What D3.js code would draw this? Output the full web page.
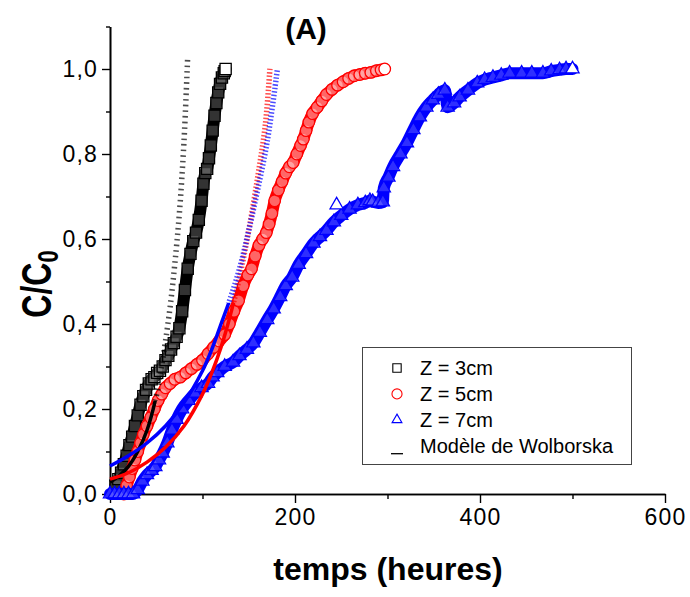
<!DOCTYPE html>
<html>
<head>
<meta charset="utf-8">
<script src="https://cdn.jsdelivr.net/npm/d3@7"></script>
<style>
  body { margin: 0; background: #fff; }
  text { font-family: "Liberation Sans", Arial, sans-serif; }
</style>
</head>
<body>
<script>
// C/C0 vs temps (heures)
const z3 = [[6,0.02],[9,0.035],[12,0.05],[15,0.07],[18,0.09],[21,0.115],[24,0.135],[27,0.16],[30,0.185],
  [33,0.21],[36,0.23],[39,0.245],[42,0.26],[45,0.27],[48,0.275],[51,0.285],[54,0.29],[57,0.3],[60,0.315],
  [63,0.325],[66,0.34],[69,0.355],[72,0.37],[75,0.39],[78,0.43],[81,0.48],[84,0.53],[87,0.565],[90,0.595],
  [93,0.615],[96,0.645],[99,0.69],[101,0.73],[103,0.755],[105,0.765],[107,0.79],[109,0.82],[111,0.855],
  [113,0.89],[115,0.92],[117,0.945],[119,0.965],[121,0.98],[123,0.99],[124,0.995],[125,1.0]]

const z5 = [[15,0.0],[18,0.02],[21,0.04],[24,0.06],[27,0.08],[30,0.1],[33,0.12],[36,0.14],[40,0.16],
  [44,0.18],[48,0.2],[52,0.22],[56,0.235],[60,0.25],[65,0.26],[70,0.27],[76,0.275],[82,0.285],[88,0.295],
  [94,0.305],[100,0.315],[106,0.33],[112,0.345],[118,0.36],[124,0.375],[129,0.4],[134,0.43],[139,0.455],
  [144,0.49],[149,0.515],[153,0.53],[157,0.56],[161,0.585],[165,0.6],[169,0.615],[172,0.635],[175,0.66],
  [178,0.69],[182,0.715],[186,0.735],[190,0.755],[194,0.77],[198,0.78],[202,0.8],[206,0.82],[209,0.835],
  [212,0.855],[215,0.875],[219,0.895],[224,0.91],[229,0.925],[234,0.94],[240,0.952],[246,0.962],[252,0.97],
  [258,0.978],[264,0.984],[270,0.987],[276,0.99],[282,0.992],[288,0.996],[293,0.998],[297,1.0]]

const z7 = [[0,0],[5,0],[10,0],[15,0],[20,0],[25,0],[30,0.01],[35,0.03],[40,0.045],[45,0.055],[49,0.064],
  [53,0.08],[57,0.096],[62,0.12],[67,0.15],[72,0.175],[78,0.2],[85,0.22],[92,0.237],[99,0.25],[106,0.26],
  [111,0.275],[116,0.285],[124,0.3],[133,0.31],[140,0.325],[148,0.34],[155,0.355],[162,0.38],[170,0.41],
  [177,0.435],[184,0.464],[190,0.49],[197,0.51],[204,0.54],[212,0.565],[220,0.59],[227,0.605],[234,0.62],
  [242,0.64],[250,0.655],[259,0.67],[268,0.68],[276,0.685],[281,0.69],[284,0.688],[290,0.685],[295,0.687],
  [296,0.72],[301,0.745],[306,0.77],[314,0.8],[321,0.826],[328,0.857],[335,0.887],[342,0.91],[349,0.927],
  [355,0.94],[362,0.95],[365,0.91],[372,0.92],[378,0.934],[387,0.95],[397,0.967],[405,0.975],[414,0.98],
  [423,0.985],[432,0.99],[445,0.99],[456,0.99],[468,0.99],[477,0.995],[486,0.998],[493,1.0],[500,1.0]]
const z7Isolated = [[245,0.68]]

// Wolborska model curves
const wolb3 = [[0,0.028],[10,0.043],[20,0.065],[30,0.1],[40,0.15],[50,0.23],[55,0.29],[60,0.36],
  [65,0.44],[70,0.54],[75,0.66],[80,0.83],[84,1.03]]
const wolb5 = [[0,0.035],[20,0.05],[40,0.075],[60,0.11],[80,0.16],[100,0.235],[110,0.285],[120,0.345],
  [130,0.42],[140,0.51],[150,0.62],[160,0.75],[168,0.87],[173,1.005]]
const wolb7 = [[0,0.066],[20,0.09],[40,0.12],[60,0.16],[80,0.215],[100,0.29],[110,0.34],[120,0.4],
  [130,0.46],[140,0.53],[150,0.62],[160,0.72],[170,0.83],[181,1.0]]

const xTicks = [0, 200, 400, 600]
const xMinor = [100, 300, 500]
const yTicks = [0, 0.2, 0.4, 0.6, 0.8, 1.0]
const yMinor = [0.1, 0.3, 0.5, 0.7, 0.9, 1.1]
const legendLabels = ['Z = 3cm', 'Z = 5cm', 'Z = 7cm', 'Modèle de Wolborska']

let m = { width: 690, height: 597, left: 110, right: 665, top: 26.5, bottom: 494 }

let svg = d3.select('body').append('svg')
  .attr('width', m.width)
  .attr('height', m.height)

let x = d3.scaleLinear().domain([0, 600]).range([m.left, m.right])
let y = d3.scaleLinear().domain([0, 1.1]).range([m.bottom, m.top])

let comma = d3.formatLocale({ decimal: ',', thousands: '.', grouping: [3], currency: ['', ''] }).format('.1f')

// axes (major + minor ticks)
function styleAxis(g) {
  g.select('.domain').attr('stroke-width', 1.6)
  g.selectAll('.tick line').attr('stroke-width', 1.4)
  g.selectAll('.tick text')
    .attr('font-size', 23).attr('fill', '#000')
    .attr('letter-spacing', 1.2)
    .attr('font-family', '"Liberation Sans", Arial, sans-serif')
}

svg.append('g')
  .attr('transform', 'translate(0,' + m.bottom + ')')
  .call(d3.axisBottom(x).tickValues(xMinor).tickSize(5).tickSizeOuter(0).tickFormat(''))
  .call(styleAxis)
svg.append('g')
  .attr('transform', 'translate(0,' + m.bottom + ')')
  .call(d3.axisBottom(x).tickValues(xTicks).tickSize(9).tickSizeOuter(0).tickPadding(6))
  .call(styleAxis)

svg.append('g')
  .attr('transform', 'translate(' + m.left + ',0)')
  .call(d3.axisLeft(y).tickValues(yMinor).tickSize(4).tickSizeOuter(0).tickFormat(''))
  .call(styleAxis)
svg.append('g')
  .attr('transform', 'translate(' + m.left + ',0)')
  .call(d3.axisLeft(y).tickValues(yTicks).tickSize(8).tickSizeOuter(0).tickPadding(4).tickFormat(comma))
  .call(styleAxis)

// experimental series: dense overlapping markers -> thick band + open markers
let series = [
  { data: z3, color: '#000', shape: d3.symbolSquare, size: 125, fillOp: 0.2 },
  { data: z5, color: '#ff0000', shape: d3.symbolCircle, size: 105, fillOp: 0.4 },
  { data: z7, color: '#0000ff', shape: d3.symbolTriangle, size: 75, fillOp: 0.18, extra: z7Isolated },
]

let line = d3.line().x(d => x(d[0])).y(d => y(d[1])).curve(d3.curveMonotoneX)

series.forEach(function(s) {
  svg.append('path')
    .attr('d', line(s.data))
    .attr('fill', 'none')
    .attr('stroke', s.color)
    .attr('stroke-width', 12)
    .attr('stroke-linejoin', 'round')
    .attr('stroke-linecap', 'round')

  let pts = s.data.concat(s.extra || [])
  svg.append('g').selectAll('path')
    .data(pts)
    .enter()
    .append('path')
      .attr('transform', d => 'translate(' + x(d[0]) + ',' + y(d[1]) + ')')
      .attr('d', d3.symbol().type(s.shape).size(s.size))
      .attr('fill', '#fff')
      .attr('fill-opacity', (d, i) => (i >= s.data.length - 1) ? 1 : s.fillOp)
      .attr('stroke', s.color)
      .attr('stroke-width', 1.3)
})

// model curves: solid at the foot, dashed where they get steep
let models = [
  { data: wolb3, color: '#000', split: 0.22, dash: '1.6,4' },
  { data: wolb5, color: '#ff0000', split: 0.45, dash: '1.5,2' },
  { data: wolb7, color: '#0000ff', split: 0.45, dash: '1.5,2' },
]
let modelLine = d3.line().x(d => x(d[0])).y(d => y(d[1])).curve(d3.curveCatmullRom)
let defs = svg.append('defs')

models.forEach(function(md, i) {
  defs.append('clipPath').attr('id', 'lo' + i)
    .append('rect').attr('x', 0).attr('width', m.width)
    .attr('y', y(md.split)).attr('height', m.height)
  defs.append('clipPath').attr('id', 'hi' + i)
    .append('rect').attr('x', 0).attr('width', m.width)
    .attr('y', 0).attr('height', y(md.split))

  svg.append('path')
    .attr('d', modelLine(md.data))
    .attr('clip-path', 'url(#lo' + i + ')')
    .attr('fill', 'none')
    .attr('stroke', md.color)
    .attr('stroke-width', 3.5)

  svg.append('path')
    .attr('d', modelLine(md.data))
    .attr('clip-path', 'url(#hi' + i + ')')
    .attr('fill', 'none')
    .attr('stroke', md.color)
    .attr('stroke-opacity', 0.7)
    .attr('stroke-width', 5.5)
    .attr('stroke-dasharray', md.dash)
})

// legend
let lg = svg.append('g')
lg.append('rect')
  .attr('x', 362.5).attr('y', 347.5)
  .attr('width', 269).attr('height', 117)
  .attr('fill', '#fff').attr('stroke', '#444').attr('stroke-width', 1)

let legendSymbols = [
  { color: '#000', shape: d3.symbolSquare, size: 70 },
  { color: '#ff0000', shape: d3.symbolCircle, size: 80 },
  { color: '#0000ff', shape: d3.symbolTriangle, size: 42 },
]
legendLabels.forEach(function(label, i) {
  let yy = 375 + i * 25.9
  if (i < 3) {
    lg.append('path')
      .attr('transform', 'translate(397,' + (yy - 7) + ')')
      .attr('d', d3.symbol().type(legendSymbols[i].shape).size(legendSymbols[i].size))
      .attr('fill', '#fff')
      .attr('stroke', legendSymbols[i].color)
      .attr('stroke-width', 1.1)
  } else {
    lg.append('line')
      .attr('x1', 391).attr('x2', 403)
      .attr('y1', yy + 1).attr('y2', yy + 1)
      .attr('stroke', '#000').attr('stroke-width', 1.3)
  }
  lg.append('text')
    .attr('x', 420).attr('y', yy)
    .attr('font-size', 20)
    .text(label)
})

// titles
svg.append('text')
  .attr('x', 306).attr('y', 39)
  .attr('text-anchor', 'middle')
  .attr('font-size', 30).attr('font-weight', 'bold')
  .text('(A)')

svg.append('text')
  .attr('x', 388).attr('y', 580)
  .attr('text-anchor', 'middle')
  .attr('font-size', 32).attr('font-weight', 'bold')
  .text('temps (heures)')

let yl = svg.append('text')
  .attr('transform', 'translate(51,284) rotate(-90) scale(1,1.3)')
  .attr('text-anchor', 'middle')
  .attr('font-weight', 'bold')
yl.append('tspan').attr('font-size', 32).text('C/C')
yl.append('tspan').attr('font-size', 22).attr('dy', 5).text('0')
</script>
</body>
</html>
